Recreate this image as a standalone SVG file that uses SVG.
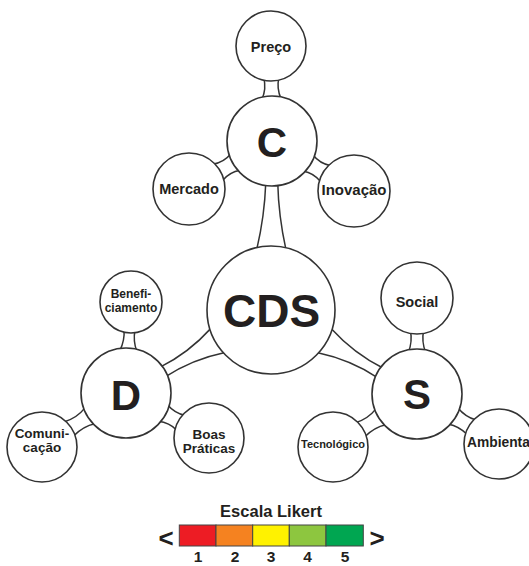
<svg xmlns="http://www.w3.org/2000/svg" width="529" height="566" viewBox="0 0 529 566">
<style>
.bg{fill:#fff}
.br{fill:#fff;stroke:#333;stroke-width:1.5;stroke-linejoin:round}
.nd{fill:#fff;stroke:#333;stroke-width:1.6}
text{font-family:"Liberation Sans",Arial,sans-serif;font-weight:bold;fill:#231f20;text-anchor:middle}
.big{font-size:42px}
.lbl{font-size:14.5px}
.sm{font-size:12px}
.md{font-size:13.5px}
.num{font-size:15.5px}
.seg{stroke:#444;stroke-width:1}
</style>
<rect class="bg" x="0" y="0" width="529" height="566"/>
<g id="connectors">
<path class="br" transform="translate(271,46) rotate(89.4)" d="M32,-7.5 Q42.5,-5 53,-9.5 L53,9.5 Q42.5,5 32,7.5Z"/>
<path class="br" transform="translate(272,141) rotate(90.34)" d="M42,-6 Q75,-7 108,-14.5 L108,14.5 Q75,7 42,6Z"/>
<path class="br" transform="translate(189,189) rotate(-30.04)" d="M33,-9.5 Q43.45,-5.5 53.9,-9.5 L53.9,9.5 Q43.45,5.5 33,9.5Z"/>
<path class="br" transform="translate(354,191) rotate(-148.6)" d="M33,-9.5 Q43.5,-5.5 54,-9.5 L54,9.5 Q43.5,5.5 33,9.5Z"/>
<path class="br" transform="translate(126,393) rotate(-29.8)" d="M42,-5.5 Q74,-3.5 106.1,-14 L106.1,14 Q74,3.5 42,5.5Z"/>
<path class="br" transform="translate(417,394) rotate(-150.1)" d="M42,-5.5 Q74.7,-3.5 107.4,-14 L107.4,14 Q74.7,3.5 42,5.5Z"/>
<path class="br" transform="translate(131,302) rotate(93.1)" d="M28,-5.5 Q38.5,-4 49.1,-8.5 L49.1,8.5 Q38.5,4 28,5.5Z"/>
<path class="br" transform="translate(42,446) rotate(-32.25)" d="M32,-8.5 Q44.6,-5 57.3,-9.5 L57.3,9.5 Q44.6,5 32,8.5Z"/>
<path class="br" transform="translate(209,438) rotate(-151.5)" d="M32,-8.5 Q42.2,-5.5 52.4,-9.5 L52.4,9.5 Q42.2,5.5 32,8.5Z"/>
<path class="br" transform="translate(417,298) rotate(90)" d="M33,-6.5 Q43.5,-4.5 54,-8.5 L54,8.5 Q43.5,4.5 33,6.5Z"/>
<path class="br" transform="translate(333,447) rotate(-32.25)" d="M32,-8.5 Q44.6,-5 57.3,-9.5 L57.3,9.5 Q44.6,5 32,8.5Z"/>
<path class="br" transform="translate(499,444) rotate(-148.6)" d="M32,-8.5 Q43,-5.5 54,-9.5 L54,9.5 Q43,5.5 32,8.5Z"/>
</g>
<g id="node-cds"><circle class="nd" cx="271" cy="310" r="64"/><text x="271.5" y="327" style="font-size:46px">CDS</text></g>
<g id="node-c"><circle class="nd" cx="272" cy="141" r="45"/><text class="big" x="272" y="157">C</text></g>
<g id="node-preco"><circle class="nd" cx="271" cy="46" r="35"/><text class="lbl" x="271" y="52">Preço</text></g>
<g id="node-mercado"><circle class="nd" cx="189" cy="189" r="36"/><text class="lbl" x="189" y="194">Mercado</text></g>
<g id="node-inovacao"><circle class="nd" cx="354" cy="191" r="36"/><text class="lbl" x="354" y="195" style="font-size:15px">Inovação</text></g>
<g id="node-d"><circle class="nd" cx="126" cy="393" r="45"/><text class="big" x="126" y="410">D</text></g>
<g id="node-beneficiamento"><circle class="nd" cx="131" cy="302" r="31"/><text class="sm" x="131" y="298">Benefi-</text><text class="sm" x="131" y="312">ciamento</text></g>
<g id="node-comunicacao"><circle class="nd" cx="42" cy="447" r="35"/><text class="md" x="42" y="438">Comuni-</text><text class="md" x="42" y="452">cação</text></g>
<g id="node-boas"><circle class="nd" cx="209" cy="438" r="35"/><text class="md" x="209" y="439">Boas</text><text class="md" x="209" y="453">Práticas</text></g>
<g id="node-s"><circle class="nd" cx="417" cy="394" r="45"/><text class="big" x="417" y="409">S</text></g>
<g id="node-social"><circle class="nd" cx="417" cy="298" r="36"/><text class="lbl" x="417" y="307">Social</text></g>
<g id="node-tecnologico"><circle class="nd" cx="333" cy="447" r="35"/><text x="333" y="448" style="font-size:11px">Tecnológico</text></g>
<g id="node-ambienta"><circle class="nd" cx="499" cy="444" r="35"/><text x="467" y="447" style="font-size:13.8px;text-anchor:start">Ambienta</text></g>
<g id="likert">
<text x="271" y="517" style="font-size:16.5px">Escala Likert</text>
<rect class="seg" x="179.3" y="525" width="36.7" height="21" fill="#ed1c24"/>
<rect class="seg" x="216" y="525" width="36.7" height="21" fill="#f58220"/>
<rect class="seg" x="252.7" y="525" width="36.6" height="21" fill="#fff200"/>
<rect class="seg" x="289.3" y="525" width="36.7" height="21" fill="#8dc63f"/>
<rect class="seg" x="326" y="525" width="37.3" height="21" fill="#00a651"/>
<text x="166" y="547" style="font-size:26px">&lt;</text>
<text x="377" y="547" style="font-size:26px">&gt;</text>
<text class="num" x="198" y="562">1</text>
<text class="num" x="235" y="562">2</text>
<text class="num" x="271" y="562">3</text>
<text class="num" x="307.5" y="562">4</text>
<text class="num" x="345" y="562">5</text>
</g>
</svg>
